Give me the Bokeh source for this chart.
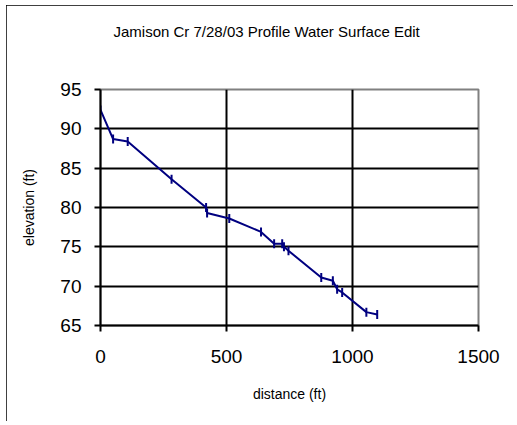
from bokeh.plotting import figure
from bokeh.models import Range1d, FixedTicker, LinearAxis
from bokeh.embed import file_html
from bokeh.resources import INLINE

title_text = "Jamison Cr 7/28/03 Profile Water Surface Edit"
x_label = "distance (ft)"
y_label = "elevation (ft)"
x_ticks = [0, 500, 1000, 1500]
y_ticks = [65, 70, 75, 80, 85, 90, 95]

distance = [0, 50, 108, 282, 419, 423, 511, 637, 689, 721, 728, 746,
            876, 922, 939, 959, 1055, 1098]
elevation = [92.4, 88.7, 88.4, 83.6, 80.0, 79.3, 78.6, 76.9, 75.4, 75.4, 75.0, 74.5,
             71.1, 70.7, 69.6, 69.2, 66.7, 66.4]

p = figure(width=507, height=416, output_backend="svg", toolbar_location=None,
           x_range=Range1d(0, 1500), y_range=Range1d(65, 95),
           min_border_left=94, min_border_right=35, min_border_top=84,
           min_border_bottom=96, title=title_text)
p.styles = {"position": "relative", "left": "6px", "top": "5px",
            "outline": "2px solid black", "outline-offset": "-2px"}
p.background_fill_color = "white"
p.border_fill_color = "white"
p.outline_line_color = "#808080"
p.outline_line_width = 2

xax = p.below[0]
yax = p.left[0]

# empty spacer above the plot area, so the title sits higher
spacer = LinearAxis(ticker=FixedTicker(ticks=[]), axis_line_color=None,
                    major_tick_line_color=None, minor_tick_line_color=None,
                    major_tick_in=0, major_tick_out=0, major_label_standoff=0,
                    axis_label=" ", axis_label_standoff=25,
                    axis_label_text_font="Liberation Sans",
                    axis_label_text_font_size="15px")
p.add_layout(spacer, "above")

p.title.text_font = "Liberation Sans"
p.title.text_font_size = "15px"
p.title.text_font_style = "normal"
p.title.text_color = "black"
p.title.align = "left"
p.title.offset = 13
p.title.standoff = 10

for ax in (xax, yax):
    ax.axis_line_color = "black"
    ax.axis_line_width = 2
    ax.major_tick_line_color = "black"
    ax.major_tick_line_width = 2
    ax.major_tick_in = 0
    ax.major_tick_out = 6
    ax.minor_tick_line_color = None
    ax.major_label_text_font = "Liberation Sans"
    ax.major_label_text_font_size = "19px"
    ax.major_label_text_color = "black"
    ax.axis_label_text_font = "Liberation Sans"
    ax.axis_label_text_font_size = "14px"
    ax.axis_label_text_font_style = "normal"
    ax.axis_label_text_color = "black"

xax.ticker = FixedTicker(ticks=x_ticks)
yax.ticker = FixedTicker(ticks=y_ticks)
xax.axis_label = x_label
yax.axis_label = y_label
xax.major_label_standoff = 18
yax.major_label_standoff = 13
xax.axis_label_standoff = 20
yax.axis_label_standoff = 20

p.xgrid.ticker = FixedTicker(ticks=x_ticks)
p.ygrid.ticker = FixedTicker(ticks=y_ticks)
for g in (p.xgrid[0], p.ygrid[0]):
    g.grid_line_color = "black"
    g.grid_line_width = 2

p.line(distance, elevation, line_color="#000080", line_width=2)
p.scatter(distance, elevation, marker="dash", angle=1.5708, size=9,
          line_color="#000080", line_width=2)

open("out.html", "w").write(file_html(p, INLINE))
